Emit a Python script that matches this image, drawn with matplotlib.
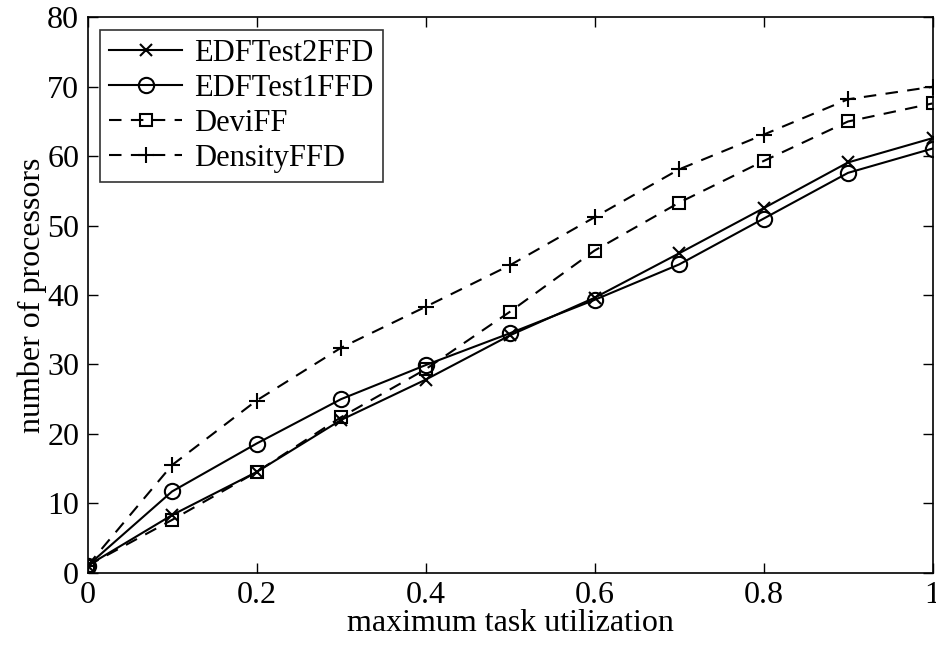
import matplotlib
matplotlib.use("Agg")
import matplotlib.pyplot as plt

plt.rcParams['font.family'] = ['Liberation Serif', 'DejaVu Serif']

utilization = [0, 0.1, 0.2, 0.3, 0.4, 0.5, 0.6, 0.7, 0.8, 0.9, 1.0]
edf_test2_ffd = [1.0, 8.3, 14.5, 22.0, 27.8, 34.2, 39.6, 46.0, 52.5, 59.1, 62.6]
edf_test1_ffd = [1.0, 11.7, 18.6, 25.0, 29.9, 34.5, 39.3, 44.4, 51.0, 57.6, 61.1]
devi_ff = [1.0, 7.6, 14.5, 22.4, 29.3, 37.6, 46.4, 53.3, 59.3, 65.0, 67.6]
density_ffd = [1.0, 15.5, 24.8, 32.4, 38.3, 44.3, 51.2, 58.1, 63.1, 68.2, 70.0]

xticks = [0, 0.2, 0.4, 0.6, 0.8, 1]
xticklabels = ['0', '0.2', '0.4', '0.6', '0.8', '1']
yticks = [0, 10, 20, 30, 40, 50, 60, 70, 80]

fig = plt.figure(figsize=(9.37, 6.48), dpi=100)
ax = fig.add_axes([0.0934, 0.1162, 0.9018, 0.857])

lw = 1.5
dash = (0, (6, 4.5))
ax.plot(utilization, edf_test2_ffd, color='k', lw=lw, marker='x', ms=9,
        mew=lw, label='EDFTest2FFD')
ax.plot(utilization, edf_test1_ffd, color='k', lw=lw, marker='o', ms=11,
        mew=lw, mfc='none', label='EDFTest1FFD')
ax.plot(utilization, devi_ff, color='k', lw=lw, ls=dash, marker='s', ms=9,
        mew=lw, mfc='none', label='DeviFF')
ax.plot(utilization, density_ffd, color='k', lw=lw, ls=dash, marker='+', ms=12,
        mew=lw, label='DensityFFD')

ax.set_xlim(0, 1)
ax.set_ylim(0, 80)
ax.set_xticks(xticks)
ax.set_xticklabels(xticklabels)
ax.set_yticks(yticks)
ax.tick_params(direction='in', length=7, width=1, top=True, right=True,
               labelsize=23, pad=6)
for s in ax.spines.values():
    s.set_linewidth(1.2)

ax.set_xlabel('maximum task utilization', fontsize=23, labelpad=-1)
ax.set_ylabel('number of processors', fontsize=23, labelpad=0)

leg = ax.legend(loc='upper left', fontsize=22, frameon=True, fancybox=False,
                edgecolor='k', handlelength=2.4, borderaxespad=0.4,
                labelspacing=0.2, handletextpad=0.4, borderpad=0.3)
leg.get_frame().set_linewidth(1.2)

fig.savefig('out.png', dpi=100)
